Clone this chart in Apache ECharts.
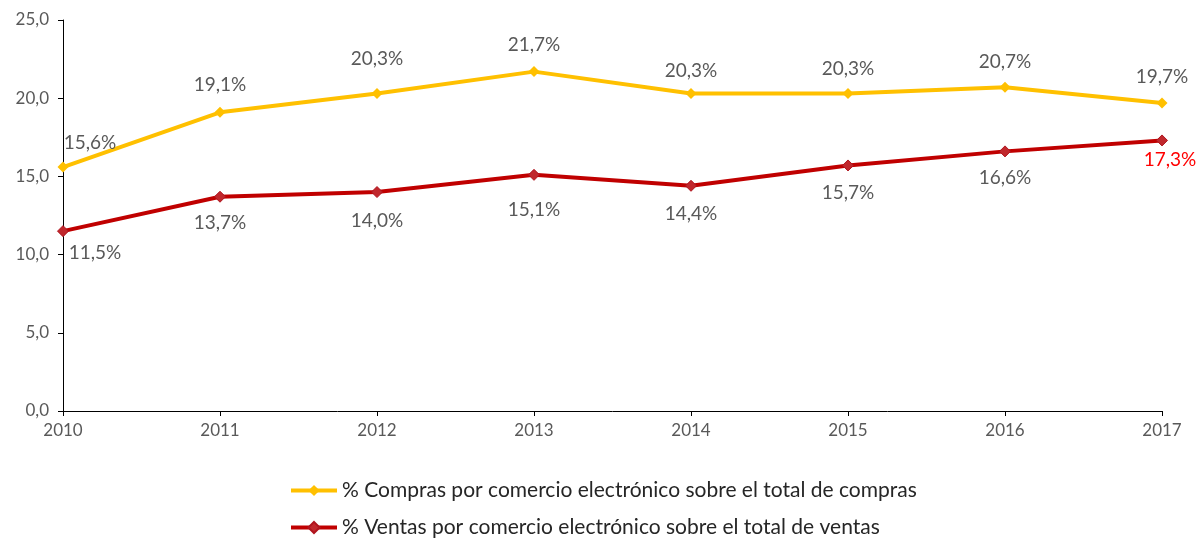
<!DOCTYPE html>
<html>
<head>
<meta charset="utf-8">
<script src="https://cdn.jsdelivr.net/npm/echarts@6/dist/echarts.min.js"></script>
<style>
  html, body { margin: 0; padding: 0; background: #fff; }
  #chart { width: 1198px; height: 539px; }
</style>
</head>
<body>
<div id="chart"></div>
<script>
// datos
const years = ['2010', '2011', '2012', '2013', '2014', '2015', '2016', '2017'];
const compras = [15.6, 19.1, 20.3, 21.7, 20.3, 20.3, 20.7, 19.7];
const ventas = [11.5, 13.7, 14.0, 15.1, 14.4, 15.7, 16.6, 17.3];
const yTicks = [0, 5, 10, 15, 20, 25];
const nombreCompras = '% Compras por comercio electrónico sobre el total de compras';
const nombreVentas = '% Ventas por comercio electrónico sobre el total de ventas';

// desplazamiento de las etiquetas (px)
const comprasLabelOffset = [[27, -24], [0, -27], [0, -35], [0, -27], [0, -23], [0, -25], [0, -25], [0, -26]];
const ventasLabelOffset = [[32, 22], [0, 26], [0, 29], [0, 35], [0, 28], [0, 27], [0, 26], [8, 19]];

const fmt = v => v.toFixed(1).replace('.', ',');
const fontFamily = 'Lato, "Open Sans", sans-serif';

const myChart = echarts.init(document.getElementById('chart'));

const buildData = (values, offsets, lastColor) => values.map((v, i) => {
  const item = {
    value: v,
    label: { offset: offsets[i] }
  };
  if (lastColor && i === values.length - 1) item.label.color = lastColor;
  return item;
});

const legendBase = {
  orient: 'vertical',
  left: 284,
  itemWidth: 46,
  itemHeight: 14,
  lineStyle: { width: 4 },
  textStyle: { color: '#262626', fontSize: 21, fontFamily: fontFamily }
};

const option = {
  backgroundColor: '#ffffff',
  animation: false,
  grid: { left: 63, right: 36, top: 20, bottom: 128 },
  legend: [
    Object.assign({}, legendBase, { top: 475, data: [nombreCompras] }),
    Object.assign({}, legendBase, { top: 512, data: [nombreVentas] })
  ],
  xAxis: {
    type: 'category',
    data: years,
    boundaryGap: false,
    axisLine: { lineStyle: { color: '#000', width: 1 } },
    axisTick: { show: true, alignWithLabel: true, length: 5, lineStyle: { color: '#000' } },
    axisLabel: { color: '#595959', fontSize: 17, fontFamily: fontFamily, margin: 11 },
    splitLine: { show: false }
  },
  yAxis: {
    type: 'value',
    min: yTicks[0],
    max: yTicks[yTicks.length - 1],
    interval: 5,
    axisLine: { show: true, lineStyle: { color: '#000', width: 1 } },
    axisTick: { show: true, length: 5, lineStyle: { color: '#000' } },
    axisLabel: { color: '#595959', fontSize: 17, fontFamily: fontFamily, margin: 14, formatter: v => fmt(v) },
    splitLine: { show: false }
  },
  series: [
    {
      name: nombreCompras,
      type: 'line',
      data: buildData(compras, comprasLabelOffset),
      symbol: 'diamond',
      symbolSize: 11,
      lineStyle: { color: '#FFC000', width: 4 },
      itemStyle: { color: '#FFC000' },
      label: {
        show: true,
        position: 'inside',
        color: '#595959',
        fontSize: 19,
        fontFamily: fontFamily,
        formatter: p => fmt(p.value) + '%'
      }
    },
    {
      name: nombreVentas,
      type: 'line',
      data: buildData(ventas, ventasLabelOffset, '#FF0000'),
      symbol: 'diamond',
      symbolSize: 11,
      lineStyle: { color: '#C00000', width: 4 },
      itemStyle: { color: '#C0282D', borderColor: '#B0141E', borderWidth: 1 },
      label: {
        show: true,
        position: 'inside',
        color: '#595959',
        fontSize: 19,
        fontFamily: fontFamily,
        formatter: p => fmt(p.value) + '%'
      }
    }
  ]
};

myChart.setOption(option);
</script>
</body>
</html>
